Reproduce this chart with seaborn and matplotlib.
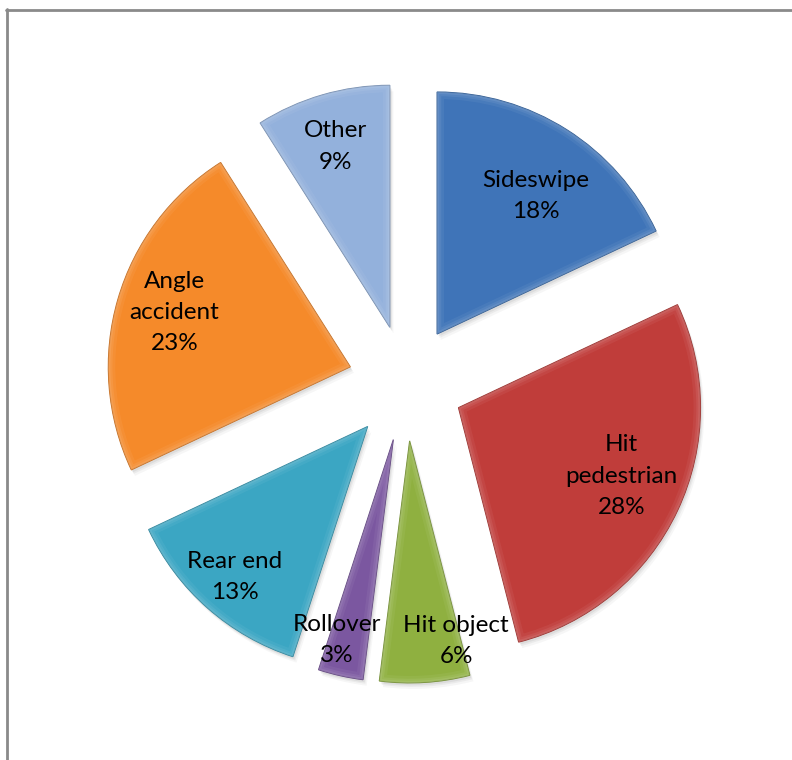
import numpy as np
import matplotlib
matplotlib.use("Agg")
import matplotlib.pyplot as plt
import matplotlib.colors as mcolors
from matplotlib.patches import Wedge
from matplotlib.lines import Line2D
import seaborn as sns

# Crash types and their shares (%)
categories = ["Sideswipe", "Hit\npedestrian", "Hit object", "Rollover",
              "Rear end", "Angle\naccident", "Other"]
shares = [18, 28, 6, 3, 13, 23, 9]
slice_colors = ["#3F74B8", "#C03D3A", "#8FB040", "#7B57A0",
                "#3BA6C3", "#F58A2A", "#93B1DC"]

# Label placement inside each slice: (fraction of radius, angular nudge in degrees)
label_place = [(0.70, -3.2), (0.73, 2.4), (0.85, 9.5), (0.86, -3.1),
               (0.83, 0.0), (0.76, -0.9), (0.78, 0.6)]

sns.set_theme(style="white")
plt.rcParams["font.family"] = ["Lato", "DejaVu Sans"]

W, H = 792, 760
fig = plt.figure(figsize=(W / 100, H / 100), dpi=100)
ax = fig.add_axes([0, 0, 1, 1])

radius = 242
center = (406, H - 383)
gap = 58

wedges, _ = ax.pie(shares, colors=slice_colors, startangle=90,
                   counterclock=False, radius=radius, center=center,
                   explode=[gap] * len(shares), frame=True,
                   wedgeprops=dict(linewidth=0))


def shade(c, f):
    r, g, b = mcolors.to_rgb(c)
    return (r * f, g * f, b * f)


def tint(c, f):
    r, g, b = mcolors.to_rgb(c)
    return (r + (1 - r) * f, g + (1 - g) * f, b + (1 - b) * f)


for w, col in zip(wedges, slice_colors):
    w.set_zorder(3)
    # soft drop shadow
    for k, a in [(6, 0.05), (4, 0.07), (2.5, 0.09)]:
        sh = Wedge((w.center[0] + k * 0.6, w.center[1] - k), w.r, w.theta1, w.theta2,
                   facecolor="#555555", edgecolor="none", alpha=a, zorder=1)
        ax.add_patch(sh)
    # bevel: soft light band fading inward from the rim
    for lw, a in [(10, 0.10), (6, 0.14), (3, 0.18)]:
        band = Wedge(w.center, w.r, w.theta1, w.theta2, facecolor="none",
                     edgecolor=tint(col, 0.5), linewidth=lw, alpha=a, zorder=4)
        ax.add_patch(band)
        band.set_clip_path(w)
    w.set_edgecolor(shade(col, 0.8))
    w.set_linewidth(0.8)

for w, cat, pct, (frac, dth) in zip(wedges, categories, shares, label_place):
    mid = np.deg2rad((w.theta1 + w.theta2) / 2 + dth)
    x = w.center[0] + frac * w.r * np.cos(mid)
    y = w.center[1] + frac * w.r * np.sin(mid)
    ax.text(x, y, f"{cat}\n{pct}%", ha="center", va="center",
            fontsize=17.5, color="black", linespacing=1.6, zorder=6)

# chart area border (left and top edges)
ax.add_line(Line2D([6.5, 6.5], [H - 9, -10], color="#8a8a8a", lw=2, zorder=7))
ax.add_line(Line2D([6, W + 10], [H - 9.5, H - 9.5], color="#8a8a8a", lw=2, zorder=7))

ax.set_xlim(0, W)
ax.set_ylim(0, H)
ax.set_aspect("equal")
ax.axis("off")

fig.savefig("out.png", dpi=100, facecolor="white")
